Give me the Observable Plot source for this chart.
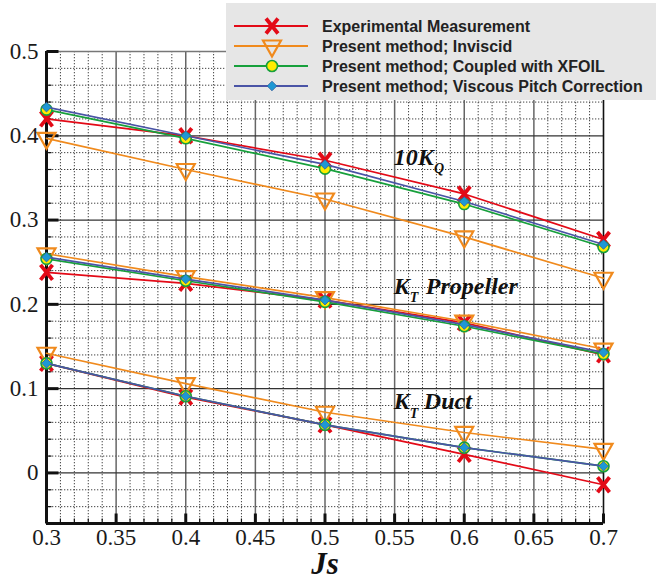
<!DOCTYPE html>
<html><head><meta charset="utf-8">
<script src="https://cdn.jsdelivr.net/npm/d3@7"></script>
<script src="https://cdn.jsdelivr.net/npm/@observablehq/plot@0.6"></script>
<style>
body{margin:0;background:#fff;overflow:hidden;}
#wrap{position:relative;width:656px;height:581px;overflow:hidden;}
#legend{position:absolute;left:226px;top:3px;width:440px;height:97px;background:#e6e6e6;}
#wrap svg text{font-family:"Liberation Serif","Times New Roman",serif;}
#wrap g[aria-label="x-axis tick label"] text,#wrap g[aria-label="y-axis tick label"] text{font-size:23px;fill:#1a1a1a;}
#legend svg text{font-family:"Liberation Sans",Arial,sans-serif;}
</style></head><body><div id="wrap"></div>
<script>
// ---- data ----
const js = [0.3, 0.4, 0.5, 0.6, 0.7];
const seriesNames = ["Experimental Measurement", "Present method; Inviscid", "Present method; Coupled with XFOIL", "Present method; Viscous Pitch Correction"];
// 10 K_Q
const kqExp   = [0.420, 0.400, 0.371, 0.331, 0.277];
const kqInv   = [0.397, 0.360, 0.325, 0.280, 0.231];
const kqXfoil = [0.431, 0.397, 0.361, 0.319, 0.268];
const kqVisc  = [0.434, 0.400, 0.366, 0.322, 0.271];
// K_T propeller
const ktpExp   = [0.238, 0.225, 0.205, 0.178, 0.140];
const ktpInv   = [0.260, 0.233, 0.208, 0.180, 0.147];
const ktpXfoil = [0.254, 0.228, 0.203, 0.174, 0.141];
const ktpVisc  = [0.256, 0.230, 0.205, 0.176, 0.143];
// K_T duct
const ktdExp   = [0.130, 0.090, 0.057, 0.022, -0.014];
const ktdInv   = [0.142, 0.106, 0.072, 0.048, 0.028];
const ktdXfoil = [0.130, 0.091, 0.057, 0.030, 0.008];
const ktdVisc  = [0.130, 0.091, 0.057, 0.030, 0.008];
// ticks
const xTicks = [0.3, 0.35, 0.4, 0.45, 0.5, 0.55, 0.6, 0.65, 0.7];
const xTickLabels = ["0.3", "0.35", "0.4", "0.45", "0.5", "0.55", "0.6", "0.65", "0.7"];
const yTicks = [0, 0.1, 0.2, 0.3, 0.4, 0.5];
const yTickLabels = ["0", "0.1", "0.2", "0.3", "0.4", "0.5"];
const xGridMajor = [0.35, 0.4, 0.45, 0.5, 0.55, 0.6, 0.65];
const xGridMinor = d3.range(31, 70).filter(i => i % 5 !== 0).map(i => i / 100);
const yGridMajor = [0, 0.1, 0.2, 0.3, 0.4];
const yGridMinor = [-0.04, -0.02, 0.02, 0.04, 0.06, 0.08, 0.12, 0.14, 0.16, 0.18, 0.22, 0.24, 0.26, 0.28, 0.32, 0.34, 0.36, 0.38, 0.42, 0.44, 0.46, 0.48];
const annotMain = [
  {t: "10K", x: 0.5494, y: 0.375},
  {t: "K", x: 0.5494, y: 0.221},
  {t: "Propeller", x: 0.5724, y: 0.221},
  {t: "K", x: 0.5494, y: 0.0845},
  {t: "Duct", x: 0.5710, y: 0.0845}
];
const annotSub = [
  {t: "Q", x: 0.5782, y: 0.361},
  {t: "T", x: 0.5609, y: 0.208},
  {t: "T", x: 0.5609, y: 0.071}
];

// ---- styles ----
const serif = "Liberation Serif";
const colors = ["#e30a17", "#f08a1d", "#17a03c", "#4a54a6"];
const xMark = {draw(ctx) { ctx.moveTo(-6, -7.5); ctx.lineTo(6, 7.5); ctx.moveTo(6, -7.5); ctx.lineTo(-6, 7.5); }};
const triDown = {draw(ctx) { ctx.moveTo(-9, -5.5); ctx.lineTo(9, -5.5); ctx.lineTo(0, 10.5); ctx.closePath(); }};
const diamond = {draw(ctx) { ctx.moveTo(0, -4.8); ctx.lineTo(4.8, 0); ctx.lineTo(0, 4.8); ctx.lineTo(-4.8, 0); ctx.closePath(); }};
const tickYMajor = {draw(ctx) { ctx.moveTo(0, 0); ctx.lineTo(12, 0); }};
const tickYMinor = {draw(ctx) { ctx.moveTo(0, 0); ctx.lineTo(5, 0); }};
const tickXMajor = {draw(ctx) { ctx.moveTo(0, 0); ctx.lineTo(0, -10); }};
const tickXMinor = {draw(ctx) { ctx.moveTo(0, 0); ctx.lineTo(0, -5); }};

const groups = [
  [kqExp, kqInv, kqXfoil, kqVisc],
  [ktpExp, ktpInv, ktpXfoil, ktpVisc],
  [ktdExp, ktdInv, ktdXfoil, ktdVisc]
];
function seriesRows(s) {
  const rows = [];
  groups.forEach((g, gi) => js.forEach((x, i) => rows.push({g: gi, x, y: g[s][i]})));
  return rows;
}
const markerOpts = [
  {symbol: xMark, fill: "none", stroke: colors[0], strokeWidth: 3.8},
  {symbol: triDown, fill: "none", stroke: colors[1], strokeWidth: 2.2},
  {r: 5.5, fill: "#ffec00", stroke: colors[2], strokeWidth: 1.6},
  {symbol: diamond, fill: "#1e98d4", stroke: "#2f5f9e", strokeWidth: 0.8}
];

const dataMarks = [];
for (let s = 0; s < 4; s++) {
  const rows = seriesRows(s);
  dataMarks.push(Plot.line(rows, {x: "x", y: "y", z: "g", stroke: colors[s], strokeWidth: 1.7}));
  dataMarks.push(Plot.dot(rows, {x: "x", y: "y", ...markerOpts[s]}));
}

const chart = Plot.plot({
  width: 656, height: 581,
  marginLeft: 46, marginRight: 53, marginTop: 51, marginBottom: 58,
  x: {domain: [0.3, 0.7]},
  y: {domain: [-0.06, 0.5]},
  style: {fontFamily: serif, fontSize: "23px", background: "white", color: "#1a1a1a"},
  marks: [
    Plot.ruleX(xGridMinor, {stroke: "#444", strokeWidth: 1, strokeDasharray: "1.3,1.7"}),
    Plot.ruleY(yGridMinor, {stroke: "#444", strokeWidth: 1, strokeDasharray: "1.3,1.7"}),
    Plot.ruleX(xGridMajor, {stroke: "#666", strokeWidth: 1.5}),
    Plot.ruleY(yGridMajor, {stroke: "#333", strokeWidth: 1.3}),
    Plot.ruleY([0.5], {stroke: "#777", strokeWidth: 1.5}),
    Plot.ruleX([0.7], {stroke: "#111", strokeWidth: 1.6}),
    Plot.dot(xGridMinor, {x: d => d, y: () => -0.06, symbol: tickXMinor, stroke: "#111", strokeWidth: 1.2}),
    Plot.dot(xTicks, {x: d => d, y: () => -0.06, symbol: tickXMajor, stroke: "#111", strokeWidth: 3}),
    Plot.dot(yGridMinor, {x: () => 0.3, y: d => d, symbol: tickYMinor, stroke: "#111", strokeWidth: 1.2}),
    Plot.dot(yTicks, {x: () => 0.3, y: d => d, symbol: tickYMajor, stroke: "#111", strokeWidth: 3}),
    Plot.ruleX([0.3], {stroke: "#111", strokeWidth: 3}),
    Plot.ruleY([-0.06], {stroke: "#111", strokeWidth: 3, x1: 0.3, x2: 0.7}),
    ...dataMarks,
    Plot.text(annotMain, {x: "x", y: "y", text: "t", textAnchor: "start", lineAnchor: "middle", fontFamily: serif, fontSize: 24, fontWeight: "bold", fontStyle: "italic", fill: "#111"}),
    Plot.text(annotSub, {x: "x", y: "y", text: "t", textAnchor: "start", lineAnchor: "middle", fontFamily: serif, fontSize: 14, fontWeight: "bold", fontStyle: "italic", fill: "#111"}),
    Plot.axisX(xTicks, {tickSize: 0, tickPadding: 5, fontFamily: serif, fontSize: 23, tickFormat: d => xTickLabels[xTicks.indexOf(d)], label: null}),
    Plot.axisY(yTicks, {tickSize: 0, tickPadding: 8, fontFamily: serif, fontSize: 23, tickFormat: d => yTickLabels[yTicks.indexOf(d)], label: null}),
    Plot.text(["Js"], {frameAnchor: "bottom", dy: 41, lineAnchor: "middle", fontFamily: serif, fontSize: 31, fontWeight: "bold", fontStyle: "italic", fill: "#111"})
  ]
});
const wrap = document.getElementById("wrap");
wrap.appendChild(chart);

// ---- legend ----
const leg = d3.select(wrap).append("div").attr("id", "legend");
const lsvg = leg.append("svg").attr("width", 440).attr("height", 97);
const symPaths = [
  "M-6,-7.5L6,7.5M6,-7.5L-6,7.5",
  "M-9,-5.5L9,-5.5L0,10.5Z",
  null,
  "M0,-4.8L4.8,0L0,4.8L-4.8,0Z"
];
seriesNames.forEach((name, i) => {
  const cy = 23 + i * 20;
  const g = lsvg.append("g").attr("transform", `translate(0,${cy})`);
  g.append("line").attr("x1", 8).attr("x2", 82).attr("y1", 0).attr("y2", 0).attr("stroke", colors[i]).attr("stroke-width", 2);
  const m = markerOpts[i];
  if (i === 2) {
    g.append("circle").attr("cx", 46).attr("cy", 0).attr("r", 5.5).attr("fill", m.fill).attr("stroke", m.stroke).attr("stroke-width", m.strokeWidth);
  } else {
    g.append("path").attr("d", symPaths[i]).attr("transform", "translate(46,0)").attr("fill", m.fill).attr("stroke", m.stroke).attr("stroke-width", m.strokeWidth);
  }
  g.append("text").attr("x", 96).attr("y", 0).attr("dy", "0.35em")
    .attr("font-weight", "bold").attr("font-size", 16).attr("fill", "#222")
    .text(name);
});
</script>
</body></html>
